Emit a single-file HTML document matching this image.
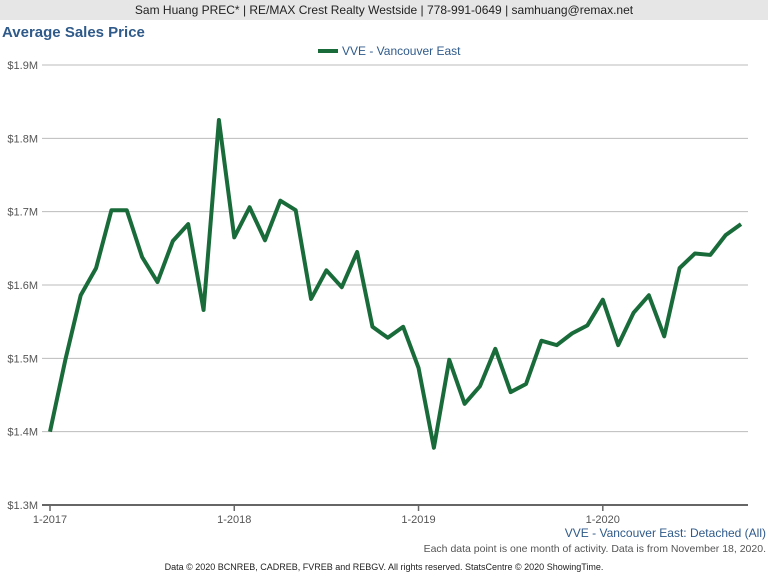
<!DOCTYPE html>
<html><head><meta charset="utf-8"><style>
body{margin:0;width:768px;height:576px;background:#fff;font-family:"Liberation Sans",sans-serif;overflow:hidden;position:relative}
.hdr{position:absolute;left:0;top:0;width:768px;height:20px;background:#e6e6e6;text-align:center;font-size:12px;line-height:20px;color:#222}
.title{position:absolute;left:2px;top:24px;font-size:15px;font-weight:bold;color:#2f5a8a}
svg{position:absolute;left:0;top:0}
</style></head><body>
<div class="hdr">Sam Huang PREC* | RE/MAX Crest Realty Westside | 778-991-0649 | samhuang@remax.net</div>
<div class="title">Average Sales Price</div>
<svg id="c" width="768" height="576"></svg>
<script>
const values=[1.400,1.498,1.586,1.623,1.702,1.702,1.638,1.604,1.660,1.683,1.566,1.825,
1.665,1.706,1.661,1.715,1.702,1.581,1.620,1.597,1.645,1.543,1.528,1.543,
1.487,1.378,1.498,1.438,1.462,1.513,1.454,1.465,1.524,1.518,1.534,1.545,
1.580,1.518,1.562,1.586,1.530,1.623,1.643,1.641,1.668,1.683];
const yTicks=[1.3,1.4,1.5,1.6,1.7,1.8,1.9];
const yTickLabels=["$1.3M","$1.4M","$1.5M","$1.6M","$1.7M","$1.8M","$1.9M"];
const xTickIdx=[0,12,24,36];
const xTickLabels=["1-2017","1-2018","1-2019","1-2020"];
const NS="http://www.w3.org/2000/svg";
const svg=document.getElementById('c');
const x=i=>50+i*(741-50)/45;
const y=v=>505-(v-1.3)/(0.6)*440;
function mk(t,a,txt){const e=document.createElementNS(NS,t);for(const k in a)e.setAttribute(k,a[k]);if(txt!=null)e.textContent=txt;svg.appendChild(e);return e;}
yTicks.forEach((v,i)=>{
 const l=mk('line',{x1:42,x2:748,y1:y(v),y2:y(v),stroke:i==0?'#666':'#bbb','stroke-width':i==0?2:1});
 
 
 const t=mk('text',{x:38,y:y(v)+4,'text-anchor':'end','font-size':11,fill:'#555'},yTickLabels[i]);
 
 
});
xTickIdx.forEach((idx,i)=>{
 const l=mk('line',{x1:x(idx),x2:x(idx),y1:505,y2:511,stroke:'#666','stroke-width':1.5});
 
 
 const t=mk('text',{x:x(idx),y:523,'text-anchor':'middle','font-size':11,fill:'#555'},xTickLabels[i]);
 
 
});
const p=mk('polyline',{points:values.map((v,i)=>x(i)+','+y(v)).join(' '),fill:'none',stroke:'#1a6b3a','stroke-width':4,'stroke-linejoin':'round'});


const ll=mk('line',{x1:318,x2:338,y1:51,y2:51,stroke:'#1a6b3a','stroke-width':4});


const lt=mk('text',{x:342,y:55,'font-size':12,fill:'#2f5a8a'},'VVE - Vancouver East');


const s1=mk('text',{x:766,y:537,'text-anchor':'end','font-size':12,fill:'#2f5a8a'},'VVE - Vancouver East: Detached (All)');


const s2=mk('text',{x:766,y:552,'text-anchor':'end','font-size':10.5,fill:'#555'},'Each data point is one month of activity. Data is from November 18, 2020.');


const s3=mk('text',{x:384,y:570,'text-anchor':'middle','font-size':9,fill:'#222'},'Data © 2020 BCNREB, CADREB, FVREB and REBGV. All rights reserved. StatsCentre © 2020 ShowingTime.');


</script>
</body></html>
